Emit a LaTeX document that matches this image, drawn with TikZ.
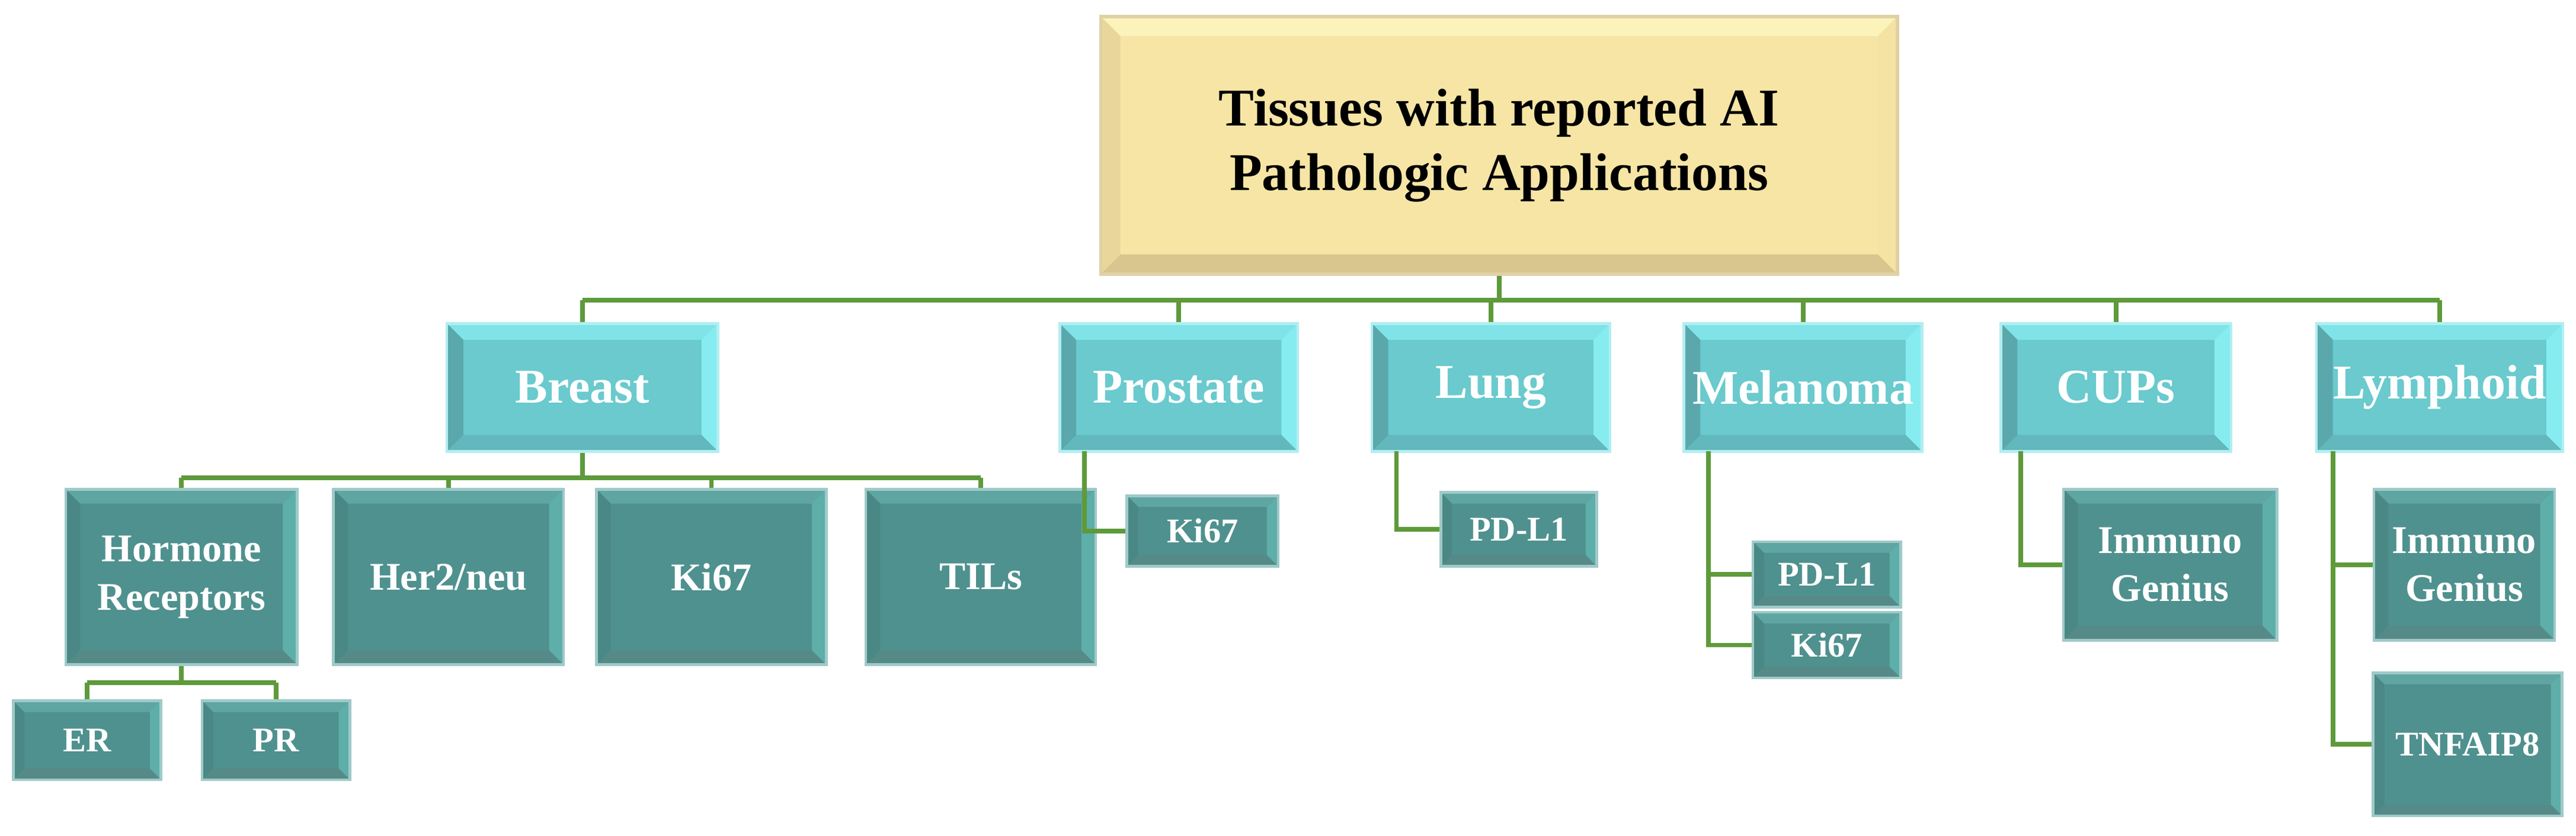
\documentclass[tikz,border=0pt]{standalone}
\usepackage{fontspec}
\setmainfont{Liberation Serif}
\begin{document}
\definecolor{lnk}{HTML}{5E9A3A}
\definecolor{tF}{HTML}{6ACACE}\definecolor{tT}{HTML}{7FE3E8}\definecolor{tR}{HTML}{86ECF0}\definecolor{tB}{HTML}{62B8BC}\definecolor{tL}{HTML}{5AA8AC}
\definecolor{dF}{HTML}{4F918E}\definecolor{dT}{HTML}{5FA6A3}\definecolor{dR}{HTML}{5EAEAA}\definecolor{dB}{HTML}{568A88}\definecolor{dL}{HTML}{4A8886}
\definecolor{rF}{HTML}{F6E5A5}\definecolor{rT}{HTML}{FCF3BA}\definecolor{rR}{HTML}{F4E3A2}\definecolor{rB}{HTML}{D8C68E}\definecolor{rL}{HTML}{E8D69A}
\newcommand\bevpic[6]{%
 \fill[#1] (path picture bounding box.south west) rectangle (path picture bounding box.north east);
 \fill[#2] (path picture bounding box.north west) -- (path picture bounding box.north east) -- ([shift={(-#6,-#6)}]path picture bounding box.north east) -- ([shift={(#6,-#6)}]path picture bounding box.north west) -- cycle;
 \fill[#3] (path picture bounding box.north east) -- (path picture bounding box.south east) -- ([shift={(-#6,#6)}]path picture bounding box.south east) -- ([shift={(-#6,-#6)}]path picture bounding box.north east) -- cycle;
 \fill[#4] (path picture bounding box.south east) -- (path picture bounding box.south west) -- ([shift={(#6,#6)}]path picture bounding box.south west) -- ([shift={(-#6,#6)}]path picture bounding box.south east) -- cycle;
 \fill[#5] (path picture bounding box.south west) -- (path picture bounding box.north west) -- ([shift={(#6,-#6)}]path picture bounding box.north west) -- ([shift={(#6,#6)}]path picture bounding box.south west) -- cycle;}
\tikzset{
 sz/.style 2 args={minimum width={#1*0.025cm}, minimum height={#2*0.025cm}, inner sep=0pt},
 rootb/.style={draw=rB!80!white, line width=1.5pt, align=center, font=\bfseries\fontsize{23}{28}\selectfont, text=black,
   path picture={\bevpic{rF}{rT}{rR}{rB}{rL}{0.3cm}}},
 lvl1/.style={draw=tT!60!white, line width=1.2pt, align=center, font=\bfseries\fontsize{21}{25}\selectfont, text=white,
   path picture={\bevpic{tF}{tT}{tR}{tB}{tL}{0.25cm}}},
 lvl2/.style={draw=dT!60!white, line width=1.2pt, align=center, font=\bfseries\fontsize{17}{21}\selectfont, text=white,
   path picture={\bevpic{dF}{dT}{dR}{dB}{dL}{0.22cm}}},
 lvl3/.style={lvl2, font=\bfseries\fontsize{15}{19}\selectfont, path picture={\bevpic{dF}{dT}{dR}{dB}{dL}{0.17cm}}},
 con/.style={draw=lnk, line width=2pt}
}
\begin{tikzpicture}[x=0.025cm,y=-0.025cm]
\useasboundingbox (0,0) rectangle (1568,509);
\node[rootb, sz={485}{157}] (root) at (912.5,88.5) {Tissues with reported AI\\Pathologic Applications};
\node[lvl1, sz={165}{78}] (breast) at (354.5,236) {Breast};
\node[lvl1, sz={145}{78}] (prost) at (717.5,236) {Prostate};
\node[lvl1, sz={145}{78}] (lung) at (907.5,236) {Lung};
\node[lvl1, sz={145}{78}] (mel) at (1097.5,236) {Melanoma};
\node[lvl1, sz={140}{78}] (cup) at (1288,236) {CUPs};
\node[lvl1, sz={150}{78}] (lym) at (1485,236) {Lymphoid};
\node[lvl2, sz={141}{107}] (horm) at (110.5,351.5) {Hormone\\Receptors};
\node[lvl2, sz={140}{107}] (her) at (273,351.5) {Her2/neu};
\node[lvl2, sz={140}{107}] (bki) at (433,351.5) {Ki67};
\node[lvl2, sz={140}{107}] (til) at (597,351.5) {TILs};
\node[lvl3, sz={90}{48}] (er) at (53,451) {ER};
\node[lvl3, sz={90}{48}] (pr) at (168,451) {PR};
\node[lvl3, sz={92}{43}] (pki) at (732,323.5) {Ki67};
\node[lvl3, sz={95}{45}] (lpd) at (924.5,322.5) {PD-L1};
\node[lvl3, sz={90}{40}] (mpd) at (1112,350) {PD-L1};
\node[lvl3, sz={90}{40}] (mki) at (1112,393) {Ki67};
\node[lvl2, sz={130}{92}] (cimm) at (1321,344) {Immuno\\Genius};
\node[lvl2, sz={110}{92}] (limm) at (1500,344) {Immuno\\Genius};
\node[lvl3, sz={115}{87}] (tnf) at (1502,453.5) {TNFAIP8};
\coordinate (b1) at (0,183);
\draw[con] (root.south) -- (root.south |- b1);
\draw[con] (breast.north |- b1) -- (lym.north |- b1);
\foreach \n in {breast,prost,lung,mel,cup,lym} \draw[con] (\n.north) -- (\n.north |- b1);
\coordinate (b2) at (0,291);
\draw[con] (breast.south) -- (breast.south |- b2);
\draw[con] (horm.north |- b2) -- (til.north |- b2);
\foreach \n in {horm,her,bki,til} \draw[con] (\n.north) -- (\n.north |- b2);
\coordinate (b3) at (0,416);
\draw[con] (horm.south) -- (horm.south |- b3);
\draw[con] (er.north |- b3) -- (pr.north |- b3);
\foreach \n in {er,pr} \draw[con] (\n.north) -- (\n.north |- b3);
\coordinate (pc) at (660,275);
\draw[con] (pc) |- (pki.west);
\coordinate (lc) at (850,275);
\draw[con] (lc) |- (lpd.west);
\coordinate (mc) at (1040,275);
\draw[con] (mc) |- (mki.west);
\draw[con] (mc |- mpd.west) -- (mpd.west);
\coordinate (cc) at (1230,275);
\draw[con] (cc) |- (cimm.west);
\coordinate (yc) at (1420,275);
\draw[con] (yc) |- (tnf.west);
\draw[con] (yc |- limm.west) -- (limm.west);
\end{tikzpicture}
\end{document}
